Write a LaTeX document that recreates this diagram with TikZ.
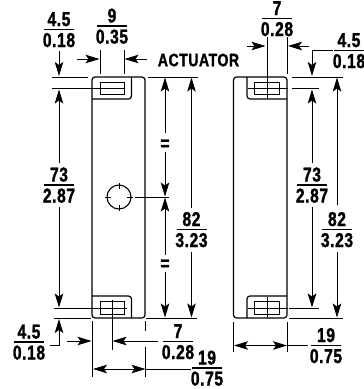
\documentclass[tikz,border=0pt]{standalone}
\usepackage{fontspec}
\setmainfont{Liberation Sans}[FakeStretch=0.78,LetterSpace=3,FakeBold=1.4]
\usetikzlibrary{arrows.meta}
\tikzset{
  x=1pt,y=-1pt,
  dim/.style={line width=0.9pt,draw=black},
  tipped/.style={dim,-{Stealth[length=14pt,width=8.5pt,inset=3pt]}},
  both/.style={dim,{Stealth[length=14pt,width=8.5pt,inset=3pt]}-{Stealth[length=14pt,width=8.5pt,inset=3pt]}},
  body/.style={line width=1.2pt,draw=black,rounded corners=3pt},
  thick part/.style={line width=0.95pt,draw=black},
  txt/.style={inner sep=0pt,font=\fontsize{20}{20}\selectfont\bfseries,text height=14pt,text depth=0pt,anchor=center},
}
\newcommand{\frc}[4]{%
  \node[txt] at (#1,#2-10.5) {#3};
  \draw[dim,line width=1.1pt] (#1-15,#2) -- (#1+15,#2);
  \node[txt] at (#1,#2+10.5) {#4};
}
\begin{document}
\begin{tikzpicture}
\useasboundingbox (0,0) rectangle (364,389);
\fill[white] (0,0) rectangle (364,389);
% left body
\draw[body] (92,77) rectangle (145,318);
\draw[body] (92,99) -- (131.5,99) -- (131.5,77);
\draw[body] (92,296) -- (131.5,296) -- (131.5,318);
\draw[thick part] (100,82) rectangle (124.5,94);
\draw[thick part] (100,301) rectangle (124.5,314);
\draw[dim] (100,88.5) -- (124.5,88.5);
% right body
\draw[body] (233.5,77) rectangle (287,318);
\draw[body] (287,99) -- (247,99) -- (247,77);
\draw[body] (287,296) -- (247,296) -- (247,318);
\draw[thick part] (254,82) rectangle (279,94);
\draw[thick part] (254,301) rectangle (279,314);
\draw[dim] (248,88.5) -- (288,88.5);
\draw[dim] (248,308) -- (288,308);
\draw[dim] (267,37) -- (267,99);
\draw[dim] (267,297) -- (267,318);
% hole
\draw[line width=1.1pt] (119,197) circle (12);
\draw[dim] (119,183) -- (119,189) (119,205) -- (119,211) (105,197) -- (111,197) (127,197) -- (133,197);
% extension lines left
\draw[dim] (52,77) -- (88,77);
\draw[dim] (52,88.5) -- (100,88.5);
\draw[dim] (54,308) -- (127,308);
\draw[dim] (54,318) -- (91,318);
\draw[dim] (148,77) -- (198,77);
\draw[dim] (146,318) -- (197,318);
\draw[dim] (100,50) -- (100,74);
\draw[dim] (124,50) -- (124,74);
\draw[dim] (112,300) -- (112,350);
\draw[dim] (92.5,321) -- (92.5,377);
\draw[dim] (145.5,321) -- (145.5,331) (145.5,347) -- (145.5,377);
\draw[dim] (135,197) -- (169,197);
% extension lines right
\draw[dim] (292,77) -- (343,77);
\draw[dim] (292,88.5) -- (319,88.5);
\draw[dim] (289,308) -- (319,308);
\draw[dim] (289,318) -- (343,318);
\draw[dim] (287,37) -- (287,74);
\draw[dim] (233.5,322) -- (233.5,352);
\draw[dim] (287,322) -- (287,352);
% arrows top left
\draw[tipped] (59,51) -- (59,76);
\draw[tipped] (59,163) -- (59,89.5);
\draw[tipped] (59,207) -- (59,307.5);
\draw[tipped] (77,59) -- (99.5,59);
\draw[tipped] (147,59) -- (124.5,59);
% arrows lower left
\draw[tipped] (50,345) -- (59,345) -- (59,319);
\draw[tipped] (67,341) -- (91.5,341);
\draw[tipped] (158,341) -- (112.5,341);
\draw[both] (93,369) -- (145.5,369);
\draw[dim] (145.5,369) -- (191,369);
% centre arrows
\draw[tipped] (165,133) -- (165,77.5);
\draw[tipped] (165,152) -- (165,196.5);
\draw[tipped] (165,255) -- (165,197.5);
\draw[tipped] (165,272) -- (165,317.5);
\node[txt] at (165,143) {=};
\node[txt] at (165,263) {=};
\draw[tipped] (191.5,208) -- (191.5,77.5);
\draw[tipped] (191.5,252) -- (191.5,317.5);
% right arrows
\draw[tipped] (247,46) -- (265.5,46);
\draw[tipped] (309,46) -- (288,46);
\draw[tipped] (333,50.5) -- (312,50.5) -- (312,76);
\draw[tipped] (312,163) -- (312,89.5);
\draw[tipped] (312,207) -- (312,307.5);
\draw[tipped] (337,205) -- (337,77.5);
\draw[tipped] (337,252) -- (337,317.5);
\draw[both] (234,345.5) -- (287,345.5);
\draw[dim] (287,345.5) -- (308,345.5);
% labels
\frc{59}{29.5}{4.5}{0.18}
\frc{112}{26}{9}{0.35}
\frc{277}{18.5}{7}{0.28}
\frc{349}{50.5}{4.5}{0.18}
\frc{59}{185}{73}{2.87}
\frc{191.5}{229.5}{82}{3.23}
\frc{312}{185}{73}{2.87}
\frc{337}{229.5}{82}{3.23}
\frc{29}{342}{4.5}{0.18}
\frc{178}{341.5}{7}{0.28}
\frc{207}{368}{19}{0.75}
\frc{326}{345.5}{19}{0.75}
\node[txt,font=\fontsize{18}{18}\selectfont\bfseries,text height=12.5pt] at (198.5,60) {ACTUATOR};
\end{tikzpicture}
\end{document}
